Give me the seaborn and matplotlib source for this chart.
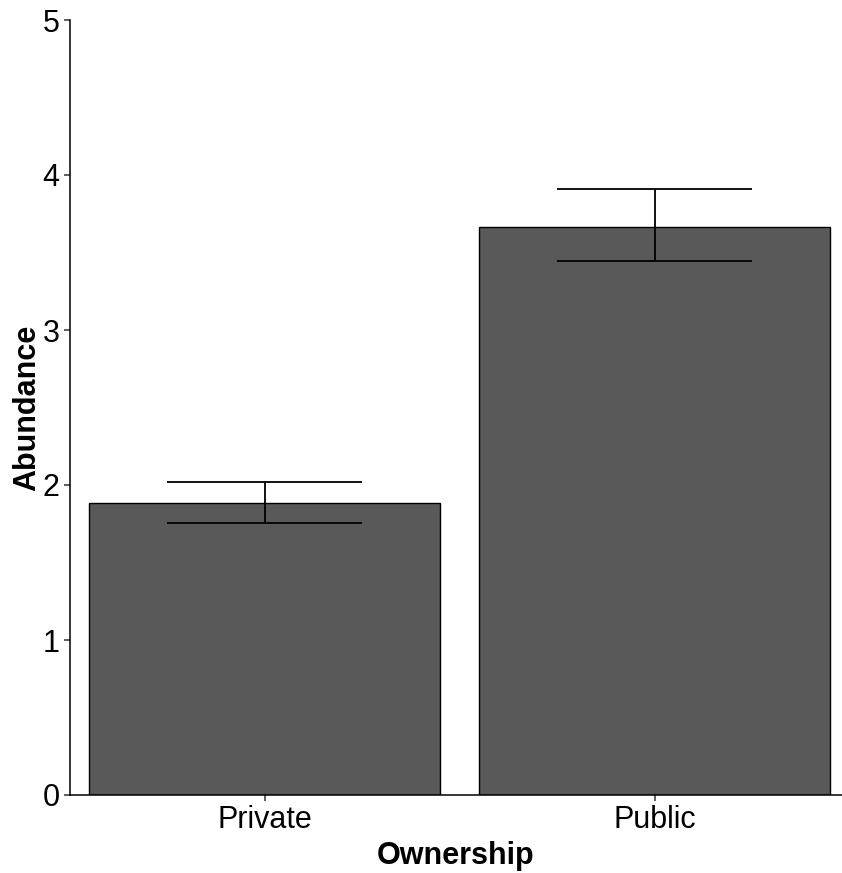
import matplotlib
matplotlib.use("Agg")
import matplotlib.pyplot as plt
import seaborn as sns
import pandas as pd
import numpy as np

categories = ["Private", "Public"]
abundance = [1.886, 3.666]
err_low = [1.753, 3.445]
err_high = [2.021, 3.910]
y_ticks = [0, 1, 2, 3, 4, 5]

sns.set_theme(style="ticks")
plt.rcParams['font.family'] = ['Liberation Sans', 'DejaVu Sans']

df = pd.DataFrame({"Ownership": categories, "Abundance": abundance})

fig = plt.figure(figsize=(8.42, 8.73), dpi=100)
ax = fig.add_axes([70/842, (873-795)/873, (842-70)/842, (795-20)/873])

sns.barplot(data=df, x="Ownership", y="Abundance", color="#595959",
            saturation=1, width=0.9, edgecolor="black", linewidth=1.0,
            errorbar=None, ax=ax)

xs = np.arange(len(categories))
lo = np.array(abundance) - np.array(err_low)
hi = np.array(err_high) - np.array(abundance)
ax.errorbar(xs, abundance, yerr=[lo, hi], fmt="none", ecolor="black",
            elinewidth=1.3, capsize=0, zorder=5)
for x, l, h in zip(xs, err_low, err_high):
    ax.hlines([l, h], x - 0.25, x + 0.25, colors="black", linewidth=1.3, zorder=5)

ax.set_xlim(-0.5, 1.48)
ax.set_ylim(0, 5)
ax.set_yticks(y_ticks)
ax.set_yticklabels([str(t) for t in y_ticks])

for s in ["top", "right"]:
    ax.spines[s].set_visible(False)
for s in ["left", "bottom"]:
    ax.spines[s].set_color("black")
    ax.spines[s].set_linewidth(1.1)

ax.tick_params(axis="both", length=4.5, width=1.1, color="#333333",
               labelsize=22, labelcolor="black", pad=3)
ax.set_xlabel("Ownership", fontsize=22, fontweight="bold", labelpad=4, color="black")
ax.set_ylabel("Abundance", fontsize=22, fontweight="bold", labelpad=0, color="black")

fig.savefig("out.png", dpi=100)
